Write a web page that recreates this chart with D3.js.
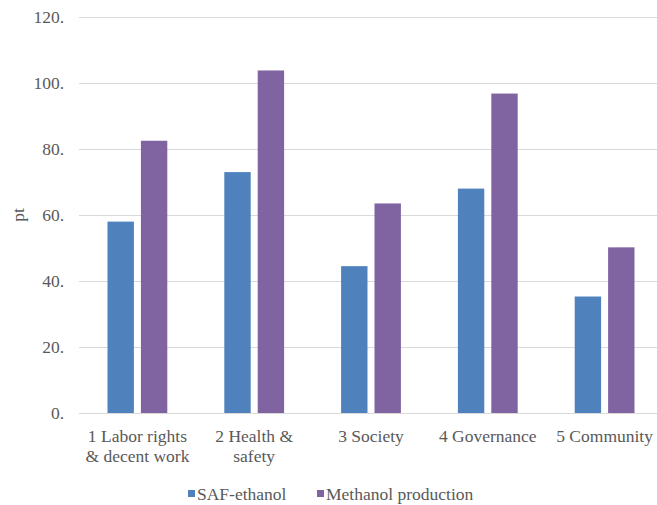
<!DOCTYPE html>
<html>
<head>
<meta charset="utf-8">
<script src="https://cdn.jsdelivr.net/npm/d3@7/dist/d3.min.js"></script>
</head>
<body style="margin:0">
<script>
// Chart data
const categories = [
  ["1 Labor rights", "& decent work"],
  ["2 Health &", "safety"],
  ["3 Society"],
  ["4 Governance"],
  ["5 Community"]
];
const seriesNames = ["SAF-ethanol", "Methanol production"];
const safEthanol = [58, 73, 44.5, 68, 35.3];
const methanol = [82.5, 103.8, 63.5, 96.8, 50.2];
const yTicks = [0, 20, 40, 60, 80, 100, 120];
const colors = ["#4F81BD", "#8064A2"];

const W = 657, H = 505;
const plot = { left: 79, right: 663, top: 17, bottom: 413 };
const FONT = "Liberation Serif";
const FS = "17.5px";
const TEXT_COLOR = "#595959";

const svg = d3.select("body").append("svg")
  .attr("width", W)
  .attr("height", H);

// Scales
const x = d3.scaleBand()
  .domain(d3.range(categories.length))
  .range([plot.left, plot.right]);

const xInner = d3.scaleBand()
  .domain([0, 1])
  .range([28.5, x.bandwidth() - 28.5])
  .paddingInner(0.21);

const y = d3.scaleLinear()
  .domain([0, 120])
  .range([plot.bottom, plot.top]);

// Gridlines
svg.selectAll("line.grid")
  .data(yTicks)
  .enter()
  .append("line")
  .attr("class", "grid")
  .attr("x1", plot.left)
  .attr("x2", plot.right)
  .attr("y1", d => y(d) + 0.5)
  .attr("y2", d => y(d) + 0.5)
  .attr("stroke", "#D9D9D9")
  .attr("stroke-width", 1);

// Bars
const series = [safEthanol, methanol];
series.forEach((vals, s) => {
  svg.selectAll("rect.s" + s)
    .data(vals)
    .enter()
    .append("rect")
    .attr("class", "s" + s)
    .attr("x", (d, i) => x(i) + xInner(s))
    .attr("y", d => y(d))
    .attr("width", xInner.bandwidth())
    .attr("height", d => y(0) - y(d))
    .attr("fill", colors[s]);
});

// All text labels collected, then drawn the same way
const labels = [];

// Y tick labels (with trailing period as in source)
yTicks.forEach(t => labels.push({ text: t + ".", x: 64, y: y(t) + 6, anchor: "end" }));

// X category labels, one entry per line
categories.forEach((lines, i) => {
  lines.forEach((t, j) => labels.push({
    text: t, x: x(i) + x.bandwidth() / 2, y: 442 + j * 20, anchor: "middle"
  }));
});

// Legend
const legendX = [188, 317];
seriesNames.forEach((name, s) => {
  svg.append("rect")
    .attr("x", legendX[s])
    .attr("y", 490)
    .attr("width", 7)
    .attr("height", 7)
    .attr("fill", colors[s]);
  labels.push({ text: name, x: legendX[s] + 9, y: 500, anchor: "start" });
});

svg.selectAll("text.lbl")
  .data(labels)
  .enter()
  .append("text")
  .attr("class", "lbl")
  .attr("x", d => d.x)
  .attr("y", d => d.y)
  .attr("text-anchor", d => d.anchor)
  .style("font-family", d => `"${FONT}"`)
  .style("font-size", FS)
  .style("fill", TEXT_COLOR)
  .text(d => d.text);

// Y axis title
svg.append("text")
  .attr("transform", "translate(24, 215) rotate(-90)")
  .attr("text-anchor", "middle")
  .style("font-family", `"${FONT}"`)
  .style("font-size", FS)
  .style("fill", TEXT_COLOR)
  .text("pt");
</script>
</body>
</html>
